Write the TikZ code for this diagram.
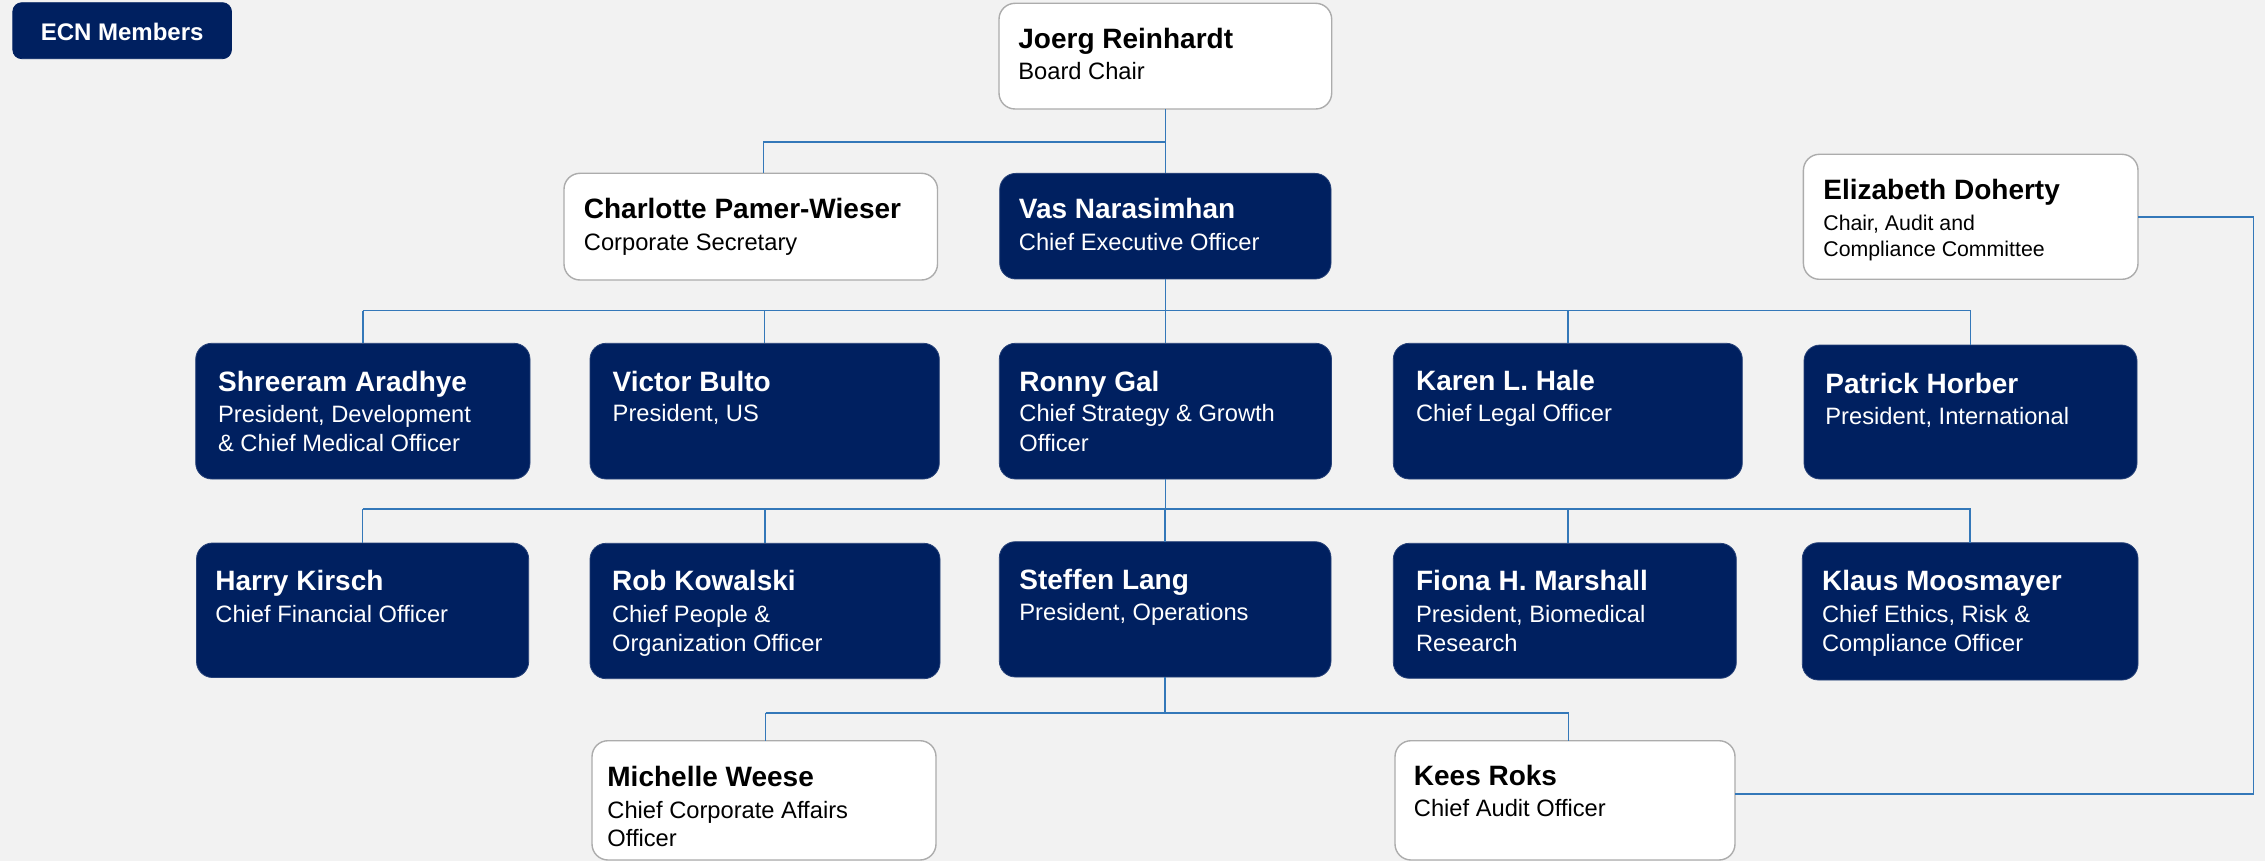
\documentclass[tikz,border=0pt]{standalone}
\usepackage{fontspec}
\setmainfont{Liberation Sans}
\definecolor{navy}{RGB}{0,32,96}
\definecolor{bgc}{RGB}{242,242,242}
\definecolor{connblue}{RGB}{52,120,185}
\definecolor{edgegray}{RGB}{172,172,172}
\tikzset{
  boxbase/.style={rounded corners=8pt, inner sep=0pt, outer sep=0pt},
  navybox/.style={boxbase, fill=navy, draw=navy!85!white, line width=0.4pt},
  whitebox/.style={boxbase, fill=white, draw=edgegray, line width=0.7pt},
  ecnbox/.style={boxbase, rounded corners=4.5pt, fill=navy, draw=navy},
  conn/.style={draw=connblue, line width=0.8pt},
  nametxt/.style={anchor=base west, inner sep=0pt, font=\fontsize{14}{16}\selectfont\bfseries},
  subtxt/.style={anchor=base west, inner sep=0pt, font=\fontsize{11.85}{14}\selectfont},
  smalltxt/.style={anchor=base west, inner sep=0pt, font=\fontsize{10.65}{13}\selectfont},
  onnavy/.style={text=white},
  onwhite/.style={text=black},
}
\newcommand\mkbox[6]{%
  \pgfmathsetmacro\mybw{(#5-#3)*0.5}%
  \pgfmathsetmacro\mybh{(#6-#4)*0.5}%
  \node[#2, minimum width=\mybw pt, minimum height=\mybh pt] (#1) at ({(#3+#5)/2},{(#4+#6)/2}) {};%
}
\begin{document}
\begin{tikzpicture}[x=0.5pt,y=-0.5pt]
\useasboundingbox (0,0) rectangle (2265,861);
\fill[bgc] (0,0) rectangle (2265,861);

\coordinate (jb) at (1165.4,142.3);
\coordinate (cs) at (763.4,142.3);
\coordinate (b2l) at (362.7,310.7);
\coordinate (b2r) at (1970.6,310.7);
\coordinate (b3l) at (362.7,509);
\coordinate (b3r) at (1970.6,509);
\coordinate (f3) at (1568,509);
\coordinate (b4l) at (765.5,712.7);
\coordinate (b4r) at (1568.5,712.7);
\coordinate (rb) at (2253.5,794);

% ---------- boxes ----------
\mkbox{ecn}{ecnbox}{12.8}{2.7}{231.5}{58.7}
\mkbox{joerg}{whitebox}{999}{3.3}{1331.7}{109}
\mkbox{charlotte}{whitebox}{564}{173.3}{937.5}{280}
\mkbox{vas}{navybox}{999.7}{173.4}{1331}{279}
\mkbox{elizabeth}{whitebox}{1803.4}{154.3}{2138}{279.3}

\mkbox{shreeram}{navybox}{195.7}{343.3}{530}{479}
\mkbox{victor}{navybox}{590}{343.3}{939.3}{479}
\mkbox{ronny}{navybox}{999.3}{343.3}{1331.5}{479}
\mkbox{karen}{navybox}{1393.3}{343.3}{1742.3}{479}
\mkbox{patrick}{navybox}{1804}{345}{2137}{479}

\mkbox{harry}{navybox}{196.5}{543}{528.7}{677.5}
\mkbox{rob}{navybox}{590}{543.3}{940}{678.7}
\mkbox{steffen}{navybox}{999.3}{541.7}{1331}{677}
\mkbox{fiona}{navybox}{1393.3}{543.3}{1736.3}{678.3}
\mkbox{klaus}{navybox}{1802.3}{542.7}{2138}{680}

\mkbox{michelle}{whitebox}{592}{740.7}{936}{860}
\mkbox{kees}{whitebox}{1395}{740.7}{1735}{860}

% ---------- connectors ----------
\draw[conn] (joerg.south) -- (vas.north);
\draw[conn] (jb) -- (cs) -- (cs |- charlotte.north);
\draw[conn] (vas.south) -- (vas.south |- b2l);
\draw[conn] (b2l) -- (b2r);
\foreach \b in {shreeram,victor,ronny,karen,patrick}
  \draw[conn] (\b.north |- b2l) -- (\b.north);
\draw[conn] (ronny.south) -- (ronny.south |- b3l);
\draw[conn] (b3l) -- (b3r);
\foreach \b in {harry,rob,steffen,klaus}
  \draw[conn] (\b.north |- b3l) -- (\b.north);
\draw[conn] (f3) -- (f3 |- fiona.north);
\draw[conn] (steffen.south) -- (steffen.south |- b4l);
\draw[conn] (b4l) -- (b4r);
\draw[conn] (b4l) -- (b4l |- michelle.north);
\draw[conn] (b4r) -- (b4r |- kees.north);
\draw[conn] (elizabeth.east) -| (rb) -- (rb -| kees.east);

% ---------- texts ----------
\node[anchor=base, inner sep=0pt, text=white, font=\fontsize{12}{14}\selectfont\bfseries] (ecn-t) at (122.2,40.7) {ECN Members};

\node[nametxt,onwhite] (joerg-n) at (1018,49) {Joerg Reinhardt};
\node[subtxt,onwhite] (joerg-s) at (1018,80) {Board Chair};

\node[nametxt,onwhite] (charlotte-n) at (583.5,218.3) {Charlotte Pamer-Wieser};
\node[subtxt,onwhite] (charlotte-s) at (583.5,250.3) {Corporate Secretary};

\node[nametxt,onnavy] (vas-n) at (1018.5,218.3) {Vas Narasimhan};
\node[subtxt,onnavy] (vas-s) at (1018.5,250.3) {Chief Executive Officer};

\node[nametxt,onwhite] (elizabeth-n) at (1823,200) {Elizabeth Doherty};
\node[smalltxt,onwhite] (elizabeth-s1) at (1823,231) {Chair, Audit and};
\node[smalltxt,onwhite] (elizabeth-s2) at (1823,256.7) {Compliance Committee};

\node[nametxt,onnavy] (shreeram-n) at (217.7,391.7) {Shreeram Aradhye};
\node[subtxt,onnavy] (shreeram-s1) at (217.7,422) {President, Development};
\node[subtxt,onnavy] (shreeram-s2) at (217.7,451.7) {\& Chief Medical Officer};

\node[nametxt,onnavy] (victor-n) at (612.3,391) {Victor Bulto};
\node[subtxt,onnavy] (victor-s) at (612.3,421.5) {President, US};

\node[nametxt,onnavy] (ronny-n) at (1019,391) {Ronny Gal};
\node[subtxt,onnavy] (ronny-s1) at (1019,421.5) {Chief Strategy \& Growth};
\node[subtxt,onnavy] (ronny-s2) at (1019,451) {Officer};

\node[nametxt,onnavy] (karen-n) at (1415.7,390.5) {Karen L. Hale};
\node[subtxt,onnavy] (karen-s) at (1415.7,421.5) {Chief Legal Officer};

\node[nametxt,onnavy] (patrick-n) at (1825,393.3) {Patrick Horber};
\node[subtxt,onnavy] (patrick-s) at (1825,424.3) {President, International};

\node[nametxt,onnavy] (harry-n) at (215,590.5) {Harry Kirsch};
\node[subtxt,onnavy] (harry-s) at (215,622) {Chief Financial Officer};

\node[nametxt,onnavy] (rob-n) at (611.7,590) {Rob Kowalski};
\node[subtxt,onnavy] (rob-s1) at (611.7,622.3) {Chief People \&};
\node[subtxt,onnavy] (rob-s2) at (611.7,651) {Organization Officer};

\node[nametxt,onnavy] (steffen-n) at (1019,589.3) {Steffen Lang};
\node[subtxt,onnavy] (steffen-s) at (1019,620.7) {President, Operations};

\node[nametxt,onnavy] (fiona-n) at (1415.7,590) {Fiona H. Marshall};
\node[subtxt,onnavy] (fiona-s1) at (1415.7,622.3) {President, Biomedical};
\node[subtxt,onnavy] (fiona-s2) at (1415.7,651) {Research};

\node[nametxt,onnavy] (klaus-n) at (1821.7,590) {Klaus Moosmayer};
\node[subtxt,onnavy] (klaus-s1) at (1821.7,622.3) {Chief Ethics, Risk \&};
\node[subtxt,onnavy] (klaus-s2) at (1821.7,651) {Compliance Officer};

\node[nametxt,onwhite] (michelle-n) at (607,786.7) {Michelle Weese};
\node[subtxt,onwhite] (michelle-s1) at (607,818.3) {Chief Corporate Affairs};
\node[subtxt,onwhite] (michelle-s2) at (607,846.7) {Officer};

\node[nametxt,onwhite] (kees-n) at (1413.5,785) {Kees Roks};
\node[subtxt,onwhite] (kees-s) at (1413.5,816.7) {Chief Audit Officer};
\end{tikzpicture}
\end{document}
